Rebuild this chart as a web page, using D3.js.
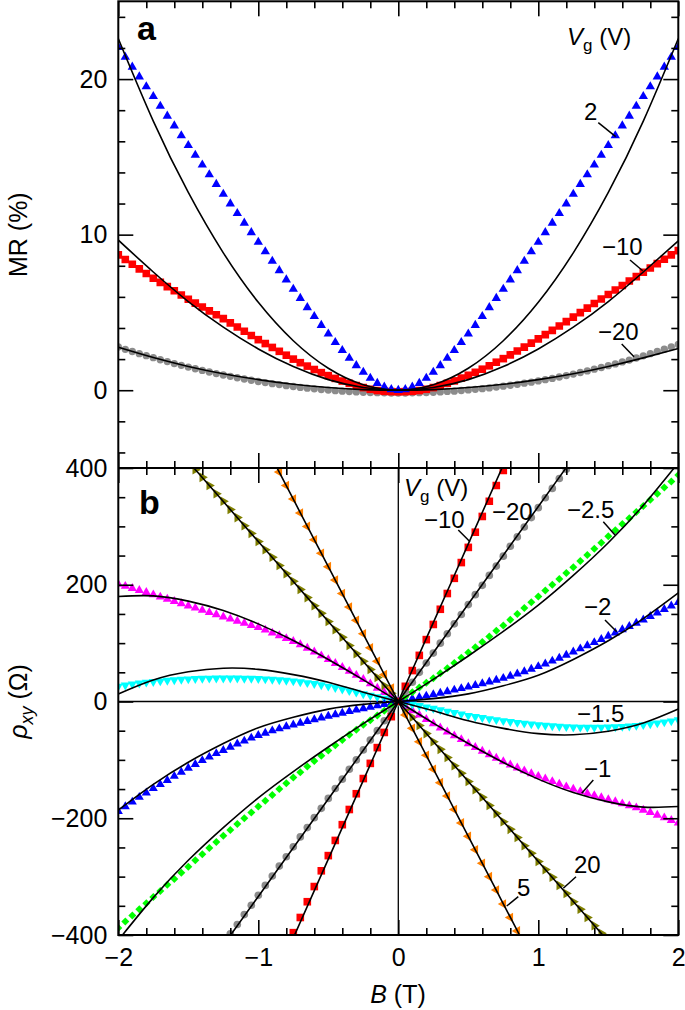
<!DOCTYPE html>
<html><head><meta charset="utf-8">
<script src="https://cdn.jsdelivr.net/npm/d3@7"></script>
<style>
body{margin:0;background:#fff;}
svg text{font-family:"Liberation Sans",Arial,Helvetica,sans-serif;fill:#000;}
</style></head><body>
<svg id="chart" width="685" height="1010"></svg>
<script>
const _ = null;
// shared field grid (T)
const B = [-2,-1.95,-1.9,-1.85,-1.8,-1.75,-1.7,-1.65,-1.6,-1.55,-1.5,-1.45,-1.4,-1.35,-1.3,-1.25,-1.2,-1.15,-1.1,-1.05,-1,-0.95,-0.9,-0.85,-0.8,-0.75,-0.7,-0.65,-0.6,-0.55,-0.5,-0.45,-0.4,-0.35,-0.3,-0.25,-0.2,-0.15,-0.1,-0.05,0,0.05,0.1,0.15,0.2,0.25,0.3,0.35,0.4,0.45,0.5,0.55,0.6,0.65,0.7,0.75,0.8,0.85,0.9,0.95,1,1.05,1.1,1.15,1.2,1.25,1.3,1.35,1.4,1.45,1.5,1.55,1.6,1.65,1.7,1.75,1.8,1.85,1.9,1.95,2];
const Bfit = [-2,-1.75,-1.5,-1.25,-1,-0.75,-0.5,-0.25,0,0.25,0.5,0.75,1,1.25,1.5,1.75,2];

// ---- panel a: MR (%) ----
const mrVg2 = [22.05,21.41,20.78,20.15,19.52,18.89,18.26,17.63,17.00,16.37,15.74,15.11,14.49,13.86,13.24,12.61,11.99,11.37,10.75,10.14,9.52,8.91,8.30,7.70,7.10,6.50,5.91,5.32,4.75,4.18,3.62,3.08,2.56,2.06,1.59,1.16,0.78,0.45,0.21,0.05,0,0.05,0.21,0.45,0.78,1.16,1.59,2.06,2.56,3.08,3.62,4.18,4.75,5.32,5.91,6.50,7.10,7.70,8.30,8.91,9.52,10.14,10.75,11.37,11.99,12.61,13.24,13.86,14.49,15.11,15.74,16.37,17.00,17.63,18.26,18.89,19.52,20.15,20.78,21.41,22.05];
const mrVgM10 = [8.7,8.4,8.1,7.8,7.5,7.2,6.93,6.66,6.39,6.12,5.85,5.6,5.35,5.1,4.85,4.6,4.33,4.06,3.79,3.52,3.25,3.0,2.75,2.5,2.25,2.0,1.77,1.55,1.33,1.13,0.94,0.76,0.59,0.44,0.3,0.17,0.06,-0.02,-0.07,-0.09,-0.1,-0.09,-0.07,-0.02,0.06,0.17,0.3,0.44,0.6,0.78,0.96,1.15,1.35,1.57,1.8,2.03,2.27,2.52,2.77,3.03,3.3,3.57,3.85,4.13,4.41,4.7,4.99,5.28,5.57,5.86,6.15,6.44,6.73,7.02,7.3,7.58,7.86,8.14,8.42,8.7,8.97];
const mrVgM20 = [2.78,2.63,2.49,2.35,2.22,2.09,1.96,1.84,1.71,1.60,1.49,1.38,1.27,1.17,1.07,0.98,0.89,0.80,0.72,0.64,0.56,0.49,0.42,0.36,0.29,0.24,0.18,0.13,0.09,0.04,0.01,-0.03,-0.06,-0.09,-0.11,-0.13,-0.15,-0.16,-0.17,-0.18,-0.18,-0.18,-0.17,-0.16,-0.15,-0.13,-0.11,-0.08,-0.06,-0.02,0.02,0.06,0.10,0.15,0.20,0.26,0.32,0.38,0.45,0.52,0.60,0.68,0.76,0.85,0.94,1.04,1.14,1.24,1.35,1.46,1.58,1.69,1.82,1.94,2.07,2.21,2.35,2.49,2.64,2.79,2.94];
const fitA_Vg2 = [22.6,17.3,12.71,8.83,5.65,3.18,1.41,0.35,0,0.35,1.41,3.18,5.65,8.83,12.71,17.3,22.6];
const fitA_VgM10 = [9.65,7.6,5.7,4.05,2.65,1.52,0.68,0.17,0,0.17,0.68,1.52,2.65,4.05,5.7,7.6,9.6];
const fitA_VgM20 = [2.76,2.1,1.53,1.06,0.68,0.38,0.17,0.04,0,0.04,0.17,0.38,0.68,1.06,1.53,2.08,2.68];

// ---- panel b: rho_xy (Ohm) ----
const rhoVg20 = [_,_,_,_,_,_,_,_,_,_,_,397,384,370,356,343,329,315,301,288,274,260,247,233,219,206,192,178,164,151,137,123,110,96,82,69,55,41,27,14,0,-14,-27,-41,-55,-69,-82,-96,-110,-123,-137,-151,-164,-178,-192,-206,-219,-233,-247,-260,-274,-288,-301,-315,-329,-343,-356,-370,-384,-397,_,_,_,_,_,_,_,_,_,_,_];
const rhoVg5 = [_,_,_,_,_,_,_,_,_,_,_,_,_,_,_,_,_,_,_,_,_,_,_,393,370,347,323,300,277,254,231,208,185,162,139,116,92,69,46,23,0,-23,-46,-69,-92,-116,-139,-162,-185,-208,-231,-254,-277,-300,-323,-347,-370,-393,_,_,_,_,_,_,_,_,_,_,_,_,_,_,_,_,_,_,_,_,_,_,_];
const rhoVgM1 = [201,197.5,194,190.5,187,183,179.2,175.4,171.6,167.8,164,160.2,156.4,152.6,148.8,145,141.4,137.8,134.2,130.6,127,122.5,117.5,113,108,103,97.5,91.5,85,78.5,72,65.5,58.5,52,45,38,30.5,23,15.5,8,0,-8,-15.5,-23,-30.5,-38,-45,-52,-58.5,-65,-72,-78.5,-85,-91,-97,-103,-108.5,-113.5,-118.5,-123.5,-128,-132.5,-137,-141.5,-146,-150,-154,-157.5,-161,-164.5,-168,-171.5,-175,-178.5,-182,-186,-190,-194.5,-199,-203.5,-208];
const rhoVgM15 = [26,28,29.8,31.4,32.8,34,35.1,36.1,37,37.8,38.5,39,39.4,39.7,39.9,40,40,39.9,39.6,39.4,39,38.4,37.7,36.9,36,35,33.6,32.1,30.4,28.3,26,23.6,21,18.4,15.7,13,10.4,7.8,5.2,2.6,0,-2.4,-4.8,-7.2,-9.6,-12,-14.4,-16.8,-19.2,-21.6,-24,-26,-27.8,-29.6,-31.3,-33,-34.5,-36,-37.3,-38.7,-40,-41,-41.8,-42.6,-43.3,-44,-44.3,-44.5,-44.5,-44.3,-44,-43.5,-43,-42.2,-41.2,-40,-38.5,-37,-35.3,-33.5,-31.5];
const rhoVgM2 = [-188,-180,-172,-164,-156.5,-149,-142,-135,-128,-121,-114,-107.5,-101,-95,-89,-83.5,-78,-72.5,-67.5,-62.5,-58,-54,-50,-46.5,-43,-40,-37,-34,-31,-28,-25,-22.5,-19.8,-17,-14.5,-12,-9.6,-7.2,-4.8,-2.4,0,2.4,4.8,7.2,9.6,12,14.5,17,19.8,22.4,25,27.8,30.6,33.7,36.8,40,43.6,47.4,51.4,55.6,60,64.6,69.4,74.4,79.6,85,90.4,95.8,101.2,106.6,112,117.6,123.2,128.8,134.4,140,146,152,158,164,170];
const rhoVgM25 = [-388,-377,-366.5,-356,-345.5,-335,-324.5,-314,-304,-293.5,-283,-272,-261.5,-251,-240.5,-230,-220,-210,-200,-190,-180,-170,-160,-150,-140,-130,-121,-111.5,-102,-93,-84,-75,-66,-57,-48.5,-40,-32,-24,-16,-8,0,8,16,24,32,40,48.5,57,66,75,84,93,102,111.5,121,130,140,150,160,170,180,190,200,210,220,230,240.5,251,261.5,272,283,293.5,304,314,324.5,335,345.5,356,366.5,377,388];
const rhoVgM20 = [_,_,_,_,_,_,_,_,_,_,_,_,_,_,_,_,-398,-382,-365,-349,-332,-315,-299,-282,-266,-249,-232,-216,-199,-183,-166,-149,-133,-116,-100,-83,-66,-50,-33,-17,0,17,33,50,66,83,100,116,133,149,166,183,199,216,232,249,266,282,299,315,332,349,365,382,398,_,_,_,_,_,_,_,_,_,_,_,_,_,_,_,_];
const rhoVgM10 = [_,_,_,_,_,_,_,_,_,_,_,_,_,_,_,_,_,_,_,_,_,_,_,_,_,-396,-370,-343,-317,-290,-264,-238,-211,-185,-158,-132,-106,-79,-53,-26,0,26,53,79,106,132,158,185,211,238,264,290,317,343,370,396,_,_,_,_,_,_,_,_,_,_,_,_,_,_,_,_,_,_,_,_,_,_,_,_,_];
const fitB_Vg20 = [548,479.5,411,342.5,274,205.5,137,68.5,0,-68.5,-137,-205.5,-274,-342.5,-411,-479.5,-548];
const fitB_Vg5 = [924,808.5,693,577.5,462,346.5,231,115.5,0,-115.5,-231,-346.5,-462,-577.5,-693,-808.5,-924];
const fitB_VgM1 = [180,181,172,156,133,104.5,72,37,0,-37,-72,-104.5,-133,-156,-172,-181,-180];
const fitB_VgM15 = [13,37,51,57,55,46,33,16,0,-16,-33,-46,-55,-57,-51,-37,-13];
const fitB_VgM2 = [-186,-142,-104,-72,-45,-27,-13,-5,0,5,13,27,45,72,104,142,186];
const fitB_VgM25 = [-409,-336,-272,-216,-165,-120,-78,-38,0,38,78,120,165,216,272,336,409];
const fitB_VgM20 = [-668,-584.5,-501,-417.5,-334,-250.5,-167,-83.5,0,83.5,167,250.5,334,417.5,501,584.5,668];
const fitB_VgM10 = [-1080,-945,-810,-675,-540,-405,-270,-135,0,135,270,405,540,675,810,945,1080];

// tick values
const xMajor = [-2,-1,0,1,2];
const xMinor = [-1.8,-1.6,-1.4,-1.2,-0.8,-0.6,-0.4,-0.2,0.2,0.4,0.6,0.8,1.2,1.4,1.6,1.8];
const yaMajor = [0,10,20];
const yaMinor = [-4,-2,2,4,6,8,12,14,16,18,22,24];
const ybMajor = [-400,-200,0,200,400];
const ybMinor = [-350,-300,-250,-150,-100,-50,50,100,150,250,300,350];

// ---------- drawing ----------
const svg = d3.select('#chart');
const X0 = 118.3, X1 = 678.3, YA0 = 1.3, YMID = 468, YB1 = 935;
const x = d3.scaleLinear().domain([-2,2]).range([X0,X1]);
const ya = d3.scaleLinear().domain([-5,25]).range([YMID,YA0]);
const yb = d3.scaleLinear().domain([-400,400]).range([YB1,YMID]);
const FONT = '"Liberation Sans",Arial,Helvetica,sans-serif';
const fmt = d3.format('d');

const defs = svg.append('defs');
defs.append('clipPath').attr('id','clipA').append('rect').attr('x',X0).attr('y',YA0).attr('width',X1-X0).attr('height',YMID-YA0);
defs.append('clipPath').attr('id','clipB').append('rect').attr('x',X0).attr('y',YMID).attr('width',X1-X0).attr('height',YB1-YMID);

const gA = svg.append('g').attr('clip-path','url(#clipA)');
const gB = svg.append('g').attr('clip-path','url(#clipB)');

// zero lines in panel b
gB.append('line').attr('x1',x(0)).attr('x2',x(0)).attr('y1',YMID).attr('y2',YB1).attr('stroke','#000').attr('stroke-width',1.3);
gB.append('line').attr('x1',X0).attr('x2',X1).attr('y1',yb(0)).attr('y2',yb(0)).attr('stroke','#000').attr('stroke-width',1.3);

function markers(g, vals, yS, type, size, color, rot){
  const pts = B.map((b,i)=>({b:b, v:vals[i]})).filter(d=>d.v!==null);
  g.append('g').selectAll('path').data(pts).join('path')
    .attr('d', d3.symbol().type(type).size(size))
    .attr('transform', d=>`translate(${x(d.b)},${yS(d.v)}) rotate(${rot})`)
    .attr('fill', color);
}
function fitLine(g, vals, yS){
  const ln = d3.line().x((d,i)=>x(Bfit[i])).y(d=>yS(d)).curve(d3.curveNatural);
  g.append('path').attr('d', ln(vals)).attr('fill','none').attr('stroke','#000').attr('stroke-width',1.6);
}

// panel a
markers(gA, mrVgM20, ya, d3.symbolCircle, 42, '#8c8c8c', 0);
markers(gA, mrVgM10, ya, d3.symbolSquare, 58, '#ff0000', 0);
markers(gA, mrVg2, ya, d3.symbolTriangle, 38, '#0000ff', 0);
fitLine(gA, fitA_Vg2, ya);
fitLine(gA, fitA_VgM10, ya);
fitLine(gA, fitA_VgM20, ya);

// panel b
markers(gB, rhoVg20, yb, d3.symbolTriangle, 40, '#7f7f00', 90);
markers(gB, rhoVg5, yb, d3.symbolTriangle, 40, '#ff8000', -90);
markers(gB, rhoVgM1, yb, d3.symbolTriangle, 36, '#ff00ff', 0);
markers(gB, rhoVgM15, yb, d3.symbolTriangle, 36, '#00ffff', 180);
markers(gB, rhoVgM2, yb, d3.symbolTriangle, 36, '#0000ff', 0);
markers(gB, rhoVgM25, yb, d3.symbolSquare, 32, '#00ff00', 45);
markers(gB, rhoVgM20, yb, d3.symbolCircle, 46, '#8c8c8c', 0);
markers(gB, rhoVgM10, yb, d3.symbolSquare, 58, '#ff0000', 0);
[fitB_Vg20, fitB_Vg5, fitB_VgM1, fitB_VgM15, fitB_VgM2, fitB_VgM25, fitB_VgM20, fitB_VgM10].forEach(v=>fitLine(gB, v, yb));

// ---------- axes ----------
function styleAxis(g){
  g.select('.domain').remove();
  g.selectAll('line').attr('stroke','#000').attr('stroke-width',1.6);
  g.attr('font-family', FONT).attr('font-size', 25);
  g.selectAll('text').attr('fill','#000');
}
function addAxis(axisFn, scale, tx, ty, vals, size, pad, labelled){
  const ax = axisFn(scale).tickValues(vals).tickSize(size).tickPadding(pad);
  ax.tickFormat(labelled ? fmt : '');
  const g = svg.append('g').attr('transform',`translate(${tx},${ty})`).call(ax);
  styleAxis(g);
  return g;
}
// x axes: top of a, divider (both sides), bottom of b
addAxis(d3.axisTop, x, 0, YA0, xMajor, -15, 0, false);
addAxis(d3.axisTop, x, 0, YA0, xMinor, -7, 0, false);
addAxis(d3.axisBottom, x, 0, YMID, xMajor, -15, 0, false);
addAxis(d3.axisBottom, x, 0, YMID, xMinor, -7, 0, false);
addAxis(d3.axisTop, x, 0, YMID, xMajor, -15, 0, false);
addAxis(d3.axisTop, x, 0, YMID, xMinor, -7, 0, false);
addAxis(d3.axisBottom, x, 0, YB1, xMajor, -15, 13, true);
addAxis(d3.axisBottom, x, 0, YB1, xMinor, -7, 0, false);
// y axes panel a
addAxis(d3.axisLeft, ya, X0, 0, yaMajor, -15, 11, true);
addAxis(d3.axisLeft, ya, X0, 0, yaMinor, -7, 0, false);
addAxis(d3.axisRight, ya, X1, 0, yaMajor, -15, 0, false);
addAxis(d3.axisRight, ya, X1, 0, yaMinor, -7, 0, false);
// y axes panel b
addAxis(d3.axisLeft, yb, X0, 0, ybMajor, -15, 11, true);
addAxis(d3.axisLeft, yb, X0, 0, ybMinor, -7, 0, false);
addAxis(d3.axisRight, yb, X1, 0, ybMajor, -15, 0, false);
addAxis(d3.axisRight, yb, X1, 0, ybMinor, -7, 0, false);

// frame
svg.append('rect').attr('x',X0).attr('y',YA0).attr('width',X1-X0).attr('height',YB1-YA0)
  .attr('fill','none').attr('stroke','#000').attr('stroke-width',2);
svg.append('line').attr('x1',X0).attr('x2',X1).attr('y1',YMID).attr('y2',YMID).attr('stroke','#000').attr('stroke-width',2);

// ---------- text ----------
const T = svg.append('g').attr('font-family',FONT).attr('fill','#000');
function label(tx, ty, s, size){ T.append('text').attr('x',tx).attr('y',ty).attr('font-size',size||24).text(s); }
function leader(x1,y1,x2,y2){ T.append('line').attr('x1',x1).attr('y1',y1).attr('x2',x2).attr('y2',y2).attr('stroke','#000').attr('stroke-width',1.5); }
function vgLabel(tx, ty){
  const t = T.append('text').attr('x',tx).attr('y',ty).attr('font-size',24);
  t.append('tspan').attr('font-style','italic').text('V');
  t.append('tspan').attr('font-size',17).attr('dy',6).text('g');
  t.append('tspan').attr('dy',-6).text(' (V)');
}
// panel letters
T.append('text').attr('x',137).attr('y',40).attr('font-size',34).attr('font-weight','bold').text('a');
T.append('text').attr('x',139).attr('y',514).attr('font-size',34).attr('font-weight','bold').text('b');
vgLabel(567, 45);
vgLabel(404, 496);
// panel a curve labels
label(584, 120, '2'); leader(598.3,122.7,615.7,136.7);
label(602, 255, '\u221210'); leader(630,260,642.7,270.7);
label(598, 340, '\u221220'); leader(621.7,344,634,356.7);
// panel b curve labels
label(424, 528, '\u221210'); leader(458.3,530,470,541.7);
label(492, 520, '\u221220');
label(567, 518, '\u22122.5'); leader(603.3,521.7,615,535);
label(584, 615, '\u22122'); leader(605,620,616.7,631.7);
label(577, 722, '\u22121.5');
label(584, 777, '\u22121'); leader(593.3,780,581.7,793.3);
label(517, 896, '5'); leader(518.3,896.7,506.7,906);
label(574, 873, '20'); leader(576,876.7,563.3,888.3);

// axis titles
const xt = T.append('text').attr('x',398).attr('y',1003).attr('text-anchor','middle').attr('font-size',25);
xt.append('tspan').attr('font-style','italic').text('B');
xt.append('tspan').text(' (T)');
T.append('text').attr('transform',`translate(27,${(YA0+YMID)/2}) rotate(-90)`).attr('text-anchor','middle').attr('font-size',25).text('MR (%)');
const yt = T.append('text').attr('transform',`translate(27,${(YMID+YB1)/2}) rotate(-90)`).attr('text-anchor','middle').attr('font-size',25);
yt.append('tspan').attr('font-style','italic').text('\u03c1');
yt.append('tspan').attr('font-style','italic').attr('font-size',18).attr('dy',6).text('xy');
yt.append('tspan').attr('dy',-6).text(' (\u03a9)');
</script>
</body></html>
